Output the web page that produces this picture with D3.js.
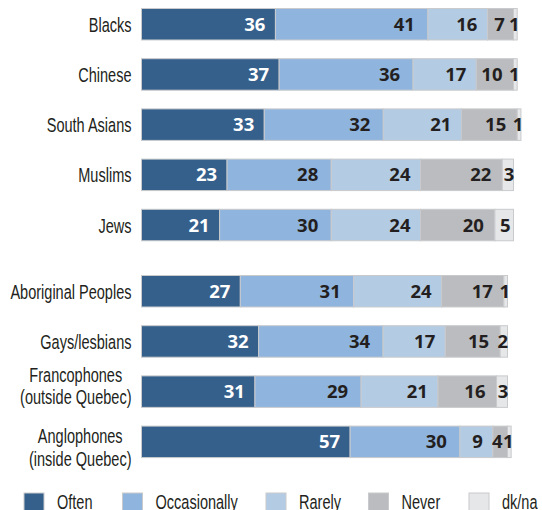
<!DOCTYPE html>
<html>
<head>
<meta charset="utf-8">
<script src="https://cdn.jsdelivr.net/npm/d3@7"></script>
<style>
  html, body { margin: 0; padding: 0; background: #fff; }
  svg { display: block; }
  .cat, .leg { font-family: "Liberation Sans", Arial, sans-serif; font-size: 19.5px; fill: #231f20; }
  .val { font-family: "Open Sans", "Liberation Sans", sans-serif; font-weight: 700; font-size: 18.5px; }
</style>
</head>
<body>
<svg id="chart" width="542" height="510"></svg>
<script>
// ---- data ----
const categories = ["Blacks", "Chinese", "South Asians", "Muslims", "Jews",
  "Aboriginal Peoples", "Gays/lesbians", "Francophones\n(outside Quebec)", "Anglophones\n(inside Quebec)"];
const groups = [0, 0, 0, 0, 0, 1, 1, 1, 1];
const seriesNames = ["Often", "Occasionally", "Rarely", "Never", "dk/na"];
const often        = [36, 37, 33, 23, 21, 27, 32, 31, 57];
const occasionally = [41, 36, 32, 28, 30, 31, 34, 29, 30];
const rarely       = [16, 17, 21, 24, 24, 24, 17, 21, 9];
const never        = [7, 10, 15, 22, 20, 17, 15, 16, 4];
const dkna         = [1, 1, 1, 3, 5, 1, 2, 3, 1];

// ---- style ----
const colors = ["#35608c", "#8fb4de", "#b4cbe4", "#bbbcbf", "#e6e7e9"];
const textColors = ["#ffffff", "#231f20", "#231f20", "#231f20", "#231f20"];
const padRight = [10, 13, 10, 11, 0];
const condense = 0.745;

const svg = d3.select("#chart");
const values = [often, occasionally, rarely, never, dkna];

const rows = categories.map((c, i) => {
  const r = { cat: c, group: groups[i] };
  seriesNames.forEach((s, k) => r[s] = values[k][i]);
  return r;
});

const stacked = d3.stack().keys(seriesNames)(rows);

// two panels with slightly different widths
const xScales = [
  d3.scaleLinear().domain([0, 100]).range([141.5, 513.5]),
  d3.scaleLinear().domain([0, 100]).range([141.5, 507.5])
];

const pIn = 0.373, step = 50.2;
const y = d3.scaleBand().domain(categories)
  .range([8.5, 8.5 + step * (categories.length - pIn)])
  .paddingInner(pIn).paddingOuter(0);
const groupGap = 16;
const yPos = (cat, g) => y(cat) + g * groupGap;
const bh = y.bandwidth();

const gBars = svg.append("g");
stacked.forEach((layer, k) => {
  gBars.append("g").selectAll("rect").data(layer).join("rect")
    .attr("x", d => xScales[d.data.group](d[0]))
    .attr("y", d => yPos(d.data.cat, d.data.group))
    .attr("width", d => xScales[d.data.group](d[1]) - xScales[d.data.group](d[0]))
    .attr("height", bh)
    .attr("fill", colors[k])
    .attr("stroke", "#c9cacc")
    .attr("stroke-width", 1);
});

stacked.forEach((layer, k) => {
  svg.append("g").selectAll("text").data(layer).join("text")
    .attr("class", "val")
    .attr("fill", textColors[k])
    .attr("text-anchor", d => {
      const xs = xScales[d.data.group];
      return (k === 4 || xs(d[1]) - xs(d[0]) < 30) ? "middle" : "end";
    })
    .attr("x", d => {
      const xs = xScales[d.data.group];
      const w = xs(d[1]) - xs(d[0]);
      if (k === 4) return (xs(d[0]) + xs(d[1])) / 2 + (w < 8 ? -1 : 1);
      if (w < 30) return (xs(d[0]) + xs(d[1])) / 2 - (w < 20 ? 3 : 1);
      return xs(d[1]) - padRight[k];
    })
    .attr("y", d => yPos(d.data.cat, d.data.group) + bh / 2 + 6.5)
    .text(d => d[1] - d[0]);
});

// category labels (condensed horizontally)
const labelOffsets = { "Francophones\n(outside Quebec)": -10, "Anglophones\n(inside Quebec)": 1.5 };
const gLab = svg.append("g");
rows.forEach(r => {
  const cy = yPos(r.cat, r.group) + bh / 2;
  const lines = r.cat.split("\n");
  if (lines.length === 1) {
    gLab.append("g").attr("transform", `translate(131.5,${cy + 7.5}) scale(${condense},1)`)
      .append("text").attr("class", "cat").attr("text-anchor", "end").text(lines[0]);
  } else {
    const base = cy + labelOffsets[r.cat];
    const g = gLab.append("g");
    const ts = lines.map(l => g.append("g")
      .append("text").attr("class", "cat").attr("text-anchor", "middle").text(l));
    let maxW = 0;
    ts.forEach(t => { maxW = Math.max(maxW, t.node().getComputedTextLength() * condense); });
    ts.forEach((t, i) => d3.select(t.node().parentNode)
      .attr("transform", `translate(${131.5 - maxW / 2},${base + i * 22.5}) scale(${condense},1)`));
  }
});

// legend
const legX = [24, 122.5, 266, 368.5, 469];
const gLeg = svg.append("g");
seriesNames.forEach((s, k) => {
  gLeg.append("rect").attr("x", legX[k]).attr("y", 493).attr("width", 20).attr("height", 20)
    .attr("fill", colors[k]).attr("stroke", "#c9cacc").attr("stroke-width", 1);
  gLeg.append("g").attr("transform", `translate(${legX[k] + 33},509) scale(${condense},1)`)
    .append("text").attr("class", "leg").text(s);
});
</script>
</body>
</html>
